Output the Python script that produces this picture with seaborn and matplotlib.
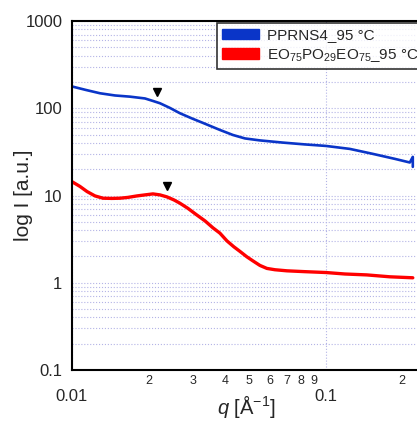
import numpy as np
import pandas as pd
import matplotlib
matplotlib.use("Agg")
import matplotlib.pyplot as plt
import matplotlib.ticker as mticker
from matplotlib.patches import Patch
import seaborn as sns

# PPRNS4 at 95 C
q_blue = [0.0100, 0.01135, 0.01289, 0.01477, 0.01692, 0.01938, 0.02084, 0.02221,
          0.02432, 0.02661, 0.02968, 0.03280, 0.03826, 0.04303, 0.04799, 0.05497,
          0.0677, 0.08268, 0.1000, 0.1243, 0.1531, 0.1869, 0.2141, 0.2200, 0.2200]
i_blue = [177.7, 162.0, 148.5, 140.1, 135.8, 129.5, 121.2, 114.1,
          100.8, 87.7, 76.4, 67.9, 56.4, 49.4, 45.1, 42.8,
          40.4, 38.5, 37.0, 34.2, 30.0, 26.3, 23.9, 27.7, 21.3]

# EO75PO29EO75 at 95 C
q_red = [0.0100, 0.01075, 0.01146, 0.01232, 0.01325, 0.01437, 0.01545, 0.01661,
         0.01803, 0.01938, 0.02084, 0.02221, 0.02366, 0.02520, 0.02661, 0.02862,
         0.03097, 0.03340, 0.03591, 0.03826, 0.04076, 0.04342, 0.04585, 0.04887,
         0.05161, 0.05497, 0.05856, 0.06297, 0.07022, 0.08268, 0.1000, 0.1188,
         0.1450, 0.1786, 0.2200]
i_red = [14.4, 12.7, 11.1, 9.89, 9.31, 9.26, 9.31, 9.51,
         9.89, 10.16, 10.43, 10.16, 9.64, 8.90, 8.16, 7.12,
         6.00, 5.12, 4.26, 3.70, 3.02, 2.58, 2.29, 1.98,
         1.78, 1.58, 1.46, 1.41, 1.37, 1.34, 1.31, 1.26,
         1.23, 1.17, 1.14]

# peak markers
q_peaks = [0.02167, 0.02359]
i_peaks = [155.0, 12.9]

labels = ["PPRNS4_95 °C", r"EO$_{75}$PO$_{29}$EO$_{75}$_95 °C"]
colors = ["#0a35c8", "#ff0000"]

df = pd.concat([
    pd.DataFrame({"q": q_blue, "I": i_blue, "sample": "blue"}),
    pd.DataFrame({"q": q_red, "I": i_red, "sample": "red"}),
])

sns.set_style("white")
plt.rcParams["font.family"] = ["Liberation Sans", "DejaVu Sans"]
plt.rcParams["mathtext.fontset"] = "custom"
plt.rcParams["mathtext.rm"] = "Liberation Sans"
plt.rcParams["mathtext.it"] = "Liberation Sans:italic"

fig = plt.figure(figsize=(4.17, 4.23), dpi=100)
ax = fig.add_axes([72 / 417, 53 / 423, 375 / 417, 349 / 423])

sns.lineplot(data=df[df["sample"] == "blue"], x="q", y="I", color=colors[0],
             lw=1.9, estimator=None, sort=False, ax=ax)
sns.lineplot(data=df[df["sample"] == "red"], x="q", y="I", color=colors[1],
             lw=2.4, estimator=None, sort=False, ax=ax)
ax.plot(q_peaks, i_peaks, "v", color="black", ms=6, ls="none")

ax.set_xscale("log")
ax.set_yscale("log")
ax.set_xlim(0.01, 0.3)
ax.set_ylim(0.1, 1000)

# grid
ax.yaxis.set_minor_locator(mticker.LogLocator(base=10, subs=np.arange(2, 10)))
ax.xaxis.set_minor_locator(mticker.LogLocator(base=10, subs=np.arange(2, 10)))
ax.grid(True, which="both", axis="y", ls=":", lw=0.8, color="#b4b4e6")
ax.grid(True, which="major", axis="x", ls=":", lw=0.8, color="#b4b4e6")


def minor_label(v, p):
    if v > 0.25:
        return ""
    return f"{int(round(v / 10 ** np.floor(np.log10(v) + 1e-9)))}"


ax.yaxis.set_major_formatter(mticker.FuncFormatter(lambda v, p: f"{v:g}"))
ax.xaxis.set_major_formatter(mticker.FuncFormatter(lambda v, p: f"{v:g}"))
ax.xaxis.set_minor_formatter(mticker.FuncFormatter(minor_label))
ax.yaxis.set_minor_formatter(mticker.NullFormatter())

ax.tick_params(axis="x", which="major", direction="in", length=7, width=1.2,
               labelsize=12, pad=14)
ax.tick_params(axis="x", which="minor", direction="in", length=3.6, width=1,
               labelsize=9, pad=3.5)
ax.tick_params(axis="y", which="major", direction="in", length=7, width=1.2,
               labelsize=12, pad=7)
ax.tick_params(axis="y", which="minor", direction="in", length=3.6, width=1)

for s in ["left", "bottom", "top"]:
    ax.spines[s].set_linewidth(1.5)
    ax.spines[s].set_color("black")
ax.spines["right"].set_visible(False)

ax.set_xlabel(r"$q$ [Å$^{-1}$]", fontsize=14.5)
ax.set_ylabel("log I [a.u.]", fontsize=15)
ax.xaxis.set_label_coords(0.466, -0.065)
ax.xaxis.label.set_va("top")
ax.yaxis.set_label_coords(-0.104, 0.5)

handles = [Patch(facecolor=c, edgecolor=c) for c in colors]
leg = ax.legend(handles, labels, loc="upper left",
                bbox_to_anchor=(217 / 417, 1 - 23 / 423),
                bbox_transform=fig.transFigure, fontsize=11, frameon=True,
                fancybox=False, handlelength=2.4, handletextpad=0.5,
                labelspacing=0.3, borderpad=0.35, borderaxespad=0)
leg.get_frame().set_edgecolor("black")
leg.get_frame().set_linewidth(1.2)

fig.savefig("out.png", dpi=100)
